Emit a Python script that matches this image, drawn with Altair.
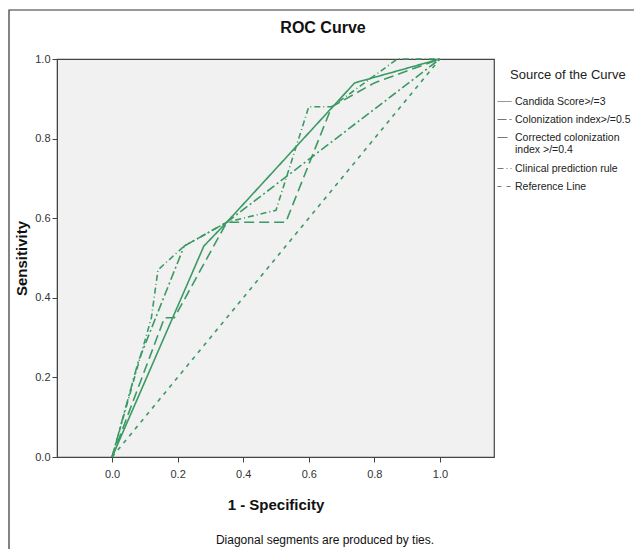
import altair as alt
import pandas as pd

series_names = [
    "Candida Score>/=3",
    "Colonization index>/=0.5",
    "Corrected colonization index >/=0.4",
    "Clinical prediction rule",
    "Reference Line",
]

fpr_candida = [0.0, 0.28, 0.35, 0.74, 1.0]
tpr_candida = [0.0, 0.53, 0.59, 0.94, 1.0]

fpr_colon = [0.0, 0.08, 0.22, 0.35, 1.0]
tpr_colon = [0.0, 0.24, 0.53, 0.59, 1.0]

fpr_corrected = [0.0, 0.16, 0.19, 0.35, 0.53, 0.67, 0.80, 1.0]
tpr_corrected = [0.0, 0.35, 0.35, 0.59, 0.59, 0.88, 0.94, 1.0]

fpr_clinical = [0.0, 0.12, 0.14, 0.22, 0.35, 0.50, 0.60, 0.67, 0.87, 1.0]
tpr_clinical = [0.0, 0.35, 0.47, 0.53, 0.59, 0.62, 0.88, 0.88, 1.0, 1.0]

fpr_reference = [0.0, 1.0]
tpr_reference = [0.0, 1.0]

dashes = [[1, 0], [9, 3, 2, 3], [10, 5], [6, 3, 1, 3], [4, 5]]

tick_values = [0.0, 0.2, 0.4, 0.6, 0.8, 1.0]

rows = []
for name, xs, ys in zip(
    series_names,
    [fpr_candida, fpr_colon, fpr_corrected, fpr_clinical, fpr_reference],
    [tpr_candida, tpr_colon, tpr_corrected, tpr_clinical, tpr_reference],
):
    for i, (a, b) in enumerate(zip(xs, ys)):
        rows.append({"series": name, "fpr": a, "tpr": b, "order": i})
df = pd.DataFrame(rows)

FONT = "Liberation Sans"
GREEN = "#3a9a63"

lines = alt.Chart(df).mark_line(strokeWidth=1.6, color=GREEN).encode(
    x=alt.X(
        "fpr:Q",
        scale=alt.Scale(domain=[-0.168, 1.165], nice=False, zero=False),
        axis=alt.Axis(
            values=tick_values, format=".1f", title="1 - Specificity",
            grid=False, titleFontSize=15, titleFontWeight="bold",
            titlePadding=18, labelFontSize=11, tickSize=5, labelPadding=6,
        ),
    ),
    y=alt.Y(
        "tpr:Q",
        scale=alt.Scale(domain=[0, 1], nice=False),
        axis=alt.Axis(
            values=tick_values, format=".1f", title="Sensitivity",
            grid=False, titleFontSize=15, titleFontWeight="bold",
            titlePadding=5, labelFontSize=11, tickSize=5,
        ),
    ),
    strokeDash=alt.StrokeDash(
        "series:N",
        scale=alt.Scale(domain=series_names, range=dashes),
        legend=alt.Legend(
            title=None,
            orient="none", legendX=440, legendY=35,
            labelFontSize=10.5, labelColor="#222",
            symbolType="stroke", symbolSize=196, symbolStrokeWidth=1,
            symbolStrokeColor="#777", rowPadding=5, labelOffset=3,
            labelLimit=200,
            labelExpr="datum.label == 'Corrected colonization index >/=0.4' ? ['Corrected colonization', 'index >/=0.4'] : datum.label",
        ),
    ),
    order="order:Q",
)

title_df = pd.DataFrame({"t": ["ROC Curve"]})
title_txt = alt.Chart(title_df).mark_text(
    fontSize=16, fontWeight="bold", font=FONT, color="#111"
).encode(x=alt.value(266), y=alt.value(-31), text="t:N")

legend_title_df = pd.DataFrame({"t": ["Source of the Curve"]})
legend_title = alt.Chart(legend_title_df).mark_text(
    fontSize=13, font=FONT, color="#222", align="left"
).encode(x=alt.value(453), y=alt.value(16), text="t:N")

note_df = pd.DataFrame({"t": ["Diagonal segments are produced by ties."]})
note_txt = alt.Chart(note_df).mark_text(
    fontSize=12, font=FONT, color="#111"
).encode(x=alt.value(268), y=alt.value(481), text="t:N")

frame = alt.Chart(title_df).mark_rect(
    fill=None, stroke="#333", strokeWidth=1.2
).encode(
    x=alt.value(-48), x2=alt.value(600), y=alt.value(-49), y2=alt.value(520)
)

chart = alt.layer(frame, lines, title_txt, legend_title, note_txt).properties(
    width=437, height=398,
    padding={"left": 49, "top": 51, "right": 140, "bottom": 92},
    autosize=alt.AutoSizeParams(type="none"),
    background="white",
).configure_view(
    fill="#f1f1f1", stroke="#444", strokeWidth=1.2
).configure_axis(
    labelFont=FONT, titleFont=FONT, labelColor="#333", titleColor="#111",
    domainColor="#444", tickColor="#444",
).configure_legend(labelFont=FONT, titleFont=FONT)

chart.save("out.html", embed_options={"renderer": "svg", "actions": False})
